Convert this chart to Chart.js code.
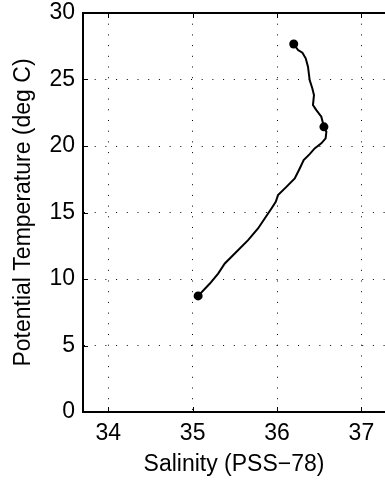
<!DOCTYPE html>
<html>
<head>
<meta charset="utf-8">
<script src="https://cdn.jsdelivr.net/npm/chart.js@4"></script>
<style>
  html, body { margin: 0; padding: 0; background: #fff; }
</style>
</head>
<body>
<canvas id="tsChart" width="385" height="486"></canvas>
<script>
// T-S profile
const salinity = [36.198, 36.249, 36.301, 36.340, 36.367, 36.387, 36.419, 36.438, 36.426, 36.466,
                  36.525, 36.556, 36.585, 36.576, 36.525, 36.446, 36.387, 36.316, 36.269, 36.210,
                  36.111, 36.012, 35.985, 35.934, 35.854, 35.775, 35.657, 35.499, 35.381, 35.302,
                  35.204, 35.065];
const theta = [27.67, 27.22, 27.01, 26.59, 25.96, 24.96, 24.33, 23.83, 23.08, 22.70,
               22.20, 21.44, 21.07, 20.57, 20.20, 19.82, 19.39, 18.94, 18.31, 17.56,
               16.93, 16.31, 15.80, 15.30, 14.55, 13.80, 12.92, 11.92, 11.17, 10.41,
               9.66, 8.73];

const markerSalinity = [36.198, 36.556, 35.065];
const markerTheta = [27.67, 21.44, 8.73];

const xTicks = [34, 35, 36, 37];
const yTicks = [0, 5, 10, 15, 20, 25, 30];
const xRange = [33.7, 37.28];
const yRange = [0, 30];

const FONT = {family: '"Liberation Sans", Arial, Helvetica, sans-serif', size: 23};

function toPoints(xs, ys) {
  return xs.map((v, i) => ({x: v, y: ys[i]}));
}

// top frame line and inward tick marks, like the matlab box
const frameTicks = {
  id: "frameTicks",
  afterDraw(chart) {
    const {ctx, chartArea: a, scales: {x, y}} = chart;
    ctx.save();
    ctx.strokeStyle = "#000";
    ctx.lineWidth = 2;
    ctx.beginPath();
    ctx.moveTo(a.left - 1, a.top);
    ctx.lineTo(a.right, a.top);
    ctx.stroke();
    ctx.lineWidth = 1;
    ctx.beginPath();
    xTicks.forEach(v => {
      const px = Math.round(x.getPixelForValue(v)) + 0.5;
      ctx.moveTo(px, a.bottom); ctx.lineTo(px, a.bottom - 5);
      ctx.moveTo(px, a.top); ctx.lineTo(px, a.top + 5);
    });
    yTicks.forEach(v => {
      const py = Math.round(y.getPixelForValue(v)) + 0.5;
      ctx.moveTo(a.left, py); ctx.lineTo(a.left + 5, py);
    });
    ctx.stroke();
    ctx.restore();
  }
};

new Chart(document.getElementById("tsChart"), {
  type: "scatter",
  data: {
    datasets: [
      {
        data: toPoints(markerSalinity, markerTheta),
        pointRadius: 4.5,
        pointBackgroundColor: "#000",
        pointBorderWidth: 0,
        showLine: false
      },
      {
        data: toPoints(salinity, theta),
        showLine: true,
        pointRadius: 0,
        borderColor: "#000",
        borderWidth: 2,
        tension: 0
      }
    ]
  },
  options: {
    responsive: false,
    animation: false,
    layout: {autoPadding: false, padding: {top: 13, right: 0, bottom: 0, left: 0}},
    plugins: {legend: {display: false}, tooltip: {enabled: false}},
    scales: {
      x: {
        type: "linear",
        min: xRange[0],
        max: xRange[1],
        afterBuildTicks: s => { s.ticks = xTicks.map(v => ({value: v})); },
        afterFit: s => { s.height = 74; s.paddingLeft = 0; s.paddingRight = 0; },
        grid: {color: "#000", lineWidth: 1, drawTicks: false},
        border: {color: "#000", width: 2, dash: [1, 9.7]},
        ticks: {color: "#000", font: FONT, padding: 8, maxRotation: 0, autoSkip: false},
        title: {display: true, text: "Salinity (PSS\u221278)", color: "#000", font: FONT,
                padding: {top: 0, bottom: 8}}
      },
      y: {
        type: "linear",
        min: yRange[0],
        max: yRange[1],
        afterBuildTicks: s => { s.ticks = yTicks.map(v => ({value: v})); },
        afterFit: s => { s.width = 83; s.paddingTop = 0; s.paddingBottom = 0; },
        grid: {color: "#000", lineWidth: 1, drawTicks: false},
        border: {color: "#000", width: 2, dash: [1, 9.7]},
        ticks: {color: "#000", font: FONT, padding: 8, autoSkip: false},
        title: {display: true, text: "Potential Temperature (deg C)", color: "#000", font: FONT,
                padding: {top: 10, bottom: 0}}
      }
    }
  },
  plugins: [frameTicks]
});
</script>
</body>
</html>
